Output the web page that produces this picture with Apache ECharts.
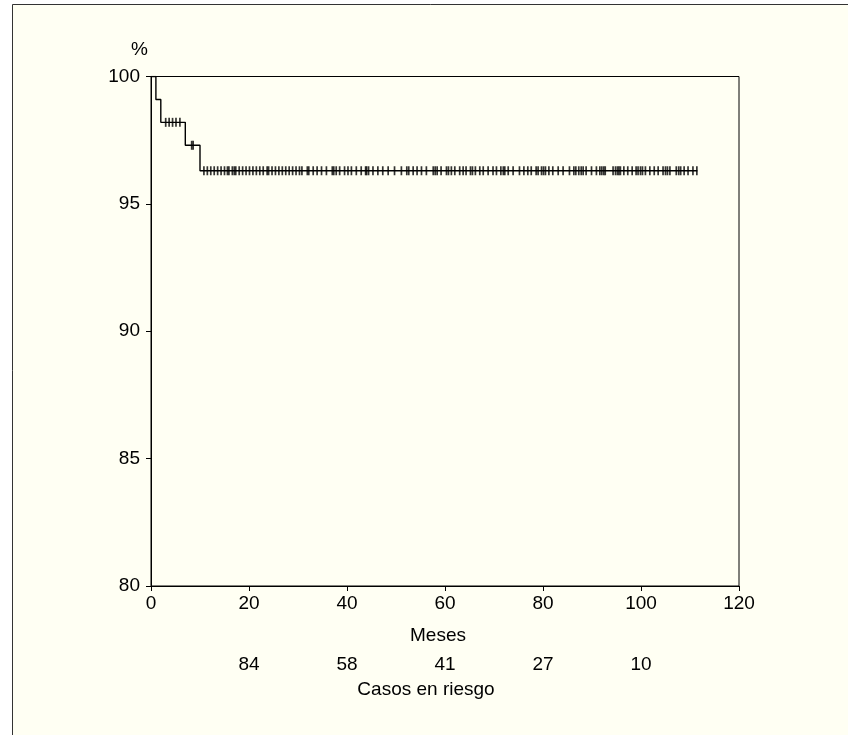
<!DOCTYPE html>
<html>
<head>
<meta charset="utf-8">
<script src="https://cdn.jsdelivr.net/npm/echarts@6/dist/echarts.min.js"></script>
<style>
  html, body { margin: 0; padding: 0; background: #ffffff; }
  #chart { width: 848px; height: 735px; }
</style>
</head>
<body>
<div id="chart"></div>
<script>
// survival steps (month, %)
const stepTimes = [0, 1, 2, 7, 10, 111.5];
const stepValues = [100, 99.1, 98.2, 97.3, 96.3, 96.3];

// censored cases, grouped by the level they sit on
const censorLevels = [98.2, 97.3, 96.3];
const censorTimes = [
  [3.0, 3.7, 4.4, 5.1, 5.9],
  [8.3, 8.6],
  [10.8, 11.5, 12.2, 12.9, 13.6, 14.3, 15.0, 15.6, 15.9, 16.6, 17.0, 17.3, 18.0, 18.7,
   19.4, 20.1, 20.8, 21.5, 22.2, 22.9, 23.7, 24.0, 24.7, 25.4, 26.1, 26.8, 27.5, 28.2,
   28.9, 29.6, 30.3, 30.8, 31.9, 32.2, 33.1, 33.9, 34.8, 35.8, 37.0, 37.3, 37.8, 38.5,
   39.5, 40.2, 40.9, 41.9, 42.9, 43.8, 44.0, 44.4, 45.3, 46.3, 47.3, 48.4, 49.7,
   51.1, 52.2, 52.6, 53.5, 54.3, 55.2, 56.2, 57.6, 58.0, 58.4, 59.2, 60.3, 60.7, 61.3,
   62.0, 63.0, 63.7, 64.3, 65.2, 65.6, 66.2, 67.1, 67.8, 68.8, 69.8, 70.5,
   71.4, 71.9, 72.2, 72.9, 73.9, 75.2, 76.1, 76.9, 77.6, 78.6, 79.0, 79.7, 80.1, 80.5,
   81.2, 82.0, 83.1, 84.1, 85.4, 86.3, 86.7, 87.3, 87.8, 88.2, 88.8, 89.9, 90.9,
   91.6, 92.0, 92.4, 92.7, 94.3, 94.8, 95.2, 95.5, 95.8, 96.5, 97.3, 98.2, 99.0, 99.4,
   99.9, 100.3, 100.9, 101.8, 102.7, 103.5, 104.5, 105.0, 105.4, 105.9, 107.2, 107.7,
   108.1, 108.8, 109.6, 110.6, 111.4]
];

// numbers at risk under the x axis
const riskTimes = [20, 40, 60, 80, 100];
const riskCounts = [84, 58, 41, 27, 10];

const xTicks = [0, 20, 40, 60, 80, 100, 120];
const yTicks = [80, 85, 90, 95, 100];

const font = "'Liberation Sans', Arial, Helvetica, sans-serif";
const ink = "#000000";

const chart = echarts.init(document.getElementById("chart"));

const censorData = [];
censorTimes.forEach((list, i) => {
  list.forEach((t) => censorData.push([t, censorLevels[i]]));
});

chart.setOption({
  backgroundColor: "transparent",
  animation: false,
  textStyle: { fontFamily: font },
  graphic: [
    {
      type: "rect",
      z: -10,
      silent: true,
      shape: { x: 12.5, y: 4.5, width: 900, height: 900 },
      style: { fill: "#fffff3", stroke: "#333333", lineWidth: 1 },
    },
    {
      type: "text",
      left: 131,
      top: 40,
      style: { text: "%", font: "19px " + font, fill: ink },
    },
    {
      type: "text",
      x: 438,
      y: 636,
      style: {
        text: "Meses", font: "19px " + font, fill: ink,
        textAlign: "center", textVerticalAlign: "middle",
      },
    },
    {
      type: "text",
      x: 426,
      y: 690,
      style: {
        text: "Casos en riesgo", font: "19px " + font, fill: ink,
        textAlign: "center", textVerticalAlign: "middle",
      },
    },
  ],
  grid: {
    left: 151, right: 109, top: 76.5, bottom: 149,
    show: true, borderColor: ink, borderWidth: 1,
    backgroundColor: "transparent",
  },
  xAxis: [
    {
      type: "value",
      min: xTicks[0],
      max: xTicks[xTicks.length - 1],
      interval: 20,
      axisLine: { show: true, onZero: false, lineStyle: { color: ink, width: 1 } },
      axisTick: { show: true, length: 5, lineStyle: { color: ink } },
      axisLabel: { color: ink, fontSize: 19, margin: 8, fontFamily: font },
      splitLine: { show: false },
    },
    {
      type: "value",
      position: "bottom",
      offset: 60,
      min: xTicks[0],
      max: xTicks[xTicks.length - 1],
      interval: 20,
      axisLine: { show: false },
      axisTick: { show: false },
      splitLine: { show: false },
      axisLabel: {
        color: ink, fontSize: 19, margin: 9, fontFamily: font,
        formatter: (v) => {
          const i = riskTimes.indexOf(v);
          return i >= 0 ? String(riskCounts[i]) : "";
        },
      },
    },
  ],
  yAxis: {
    type: "value",
    min: yTicks[0],
    max: yTicks[yTicks.length - 1],
    interval: 5,
    axisLine: { show: true, lineStyle: { color: ink, width: 1 } },
    axisTick: { show: true, length: 5, lineStyle: { color: ink } },
    axisLabel: { color: ink, fontSize: 19, margin: 11, fontFamily: font },
    splitLine: { show: false },
  },
  series: [
    {
      type: "line",
      step: "end",
      data: stepTimes.map((t, i) => [t, stepValues[i]]),
      showSymbol: false,
      lineStyle: { color: ink, width: 1.4 },
      z: 3,
    },
    {
      type: "scatter",
      data: censorData,
      symbol: "rect",
      symbolSize: [1.7, 9],
      itemStyle: { color: ink },
      z: 4,
    },
  ],
});
</script>
</body>
</html>
